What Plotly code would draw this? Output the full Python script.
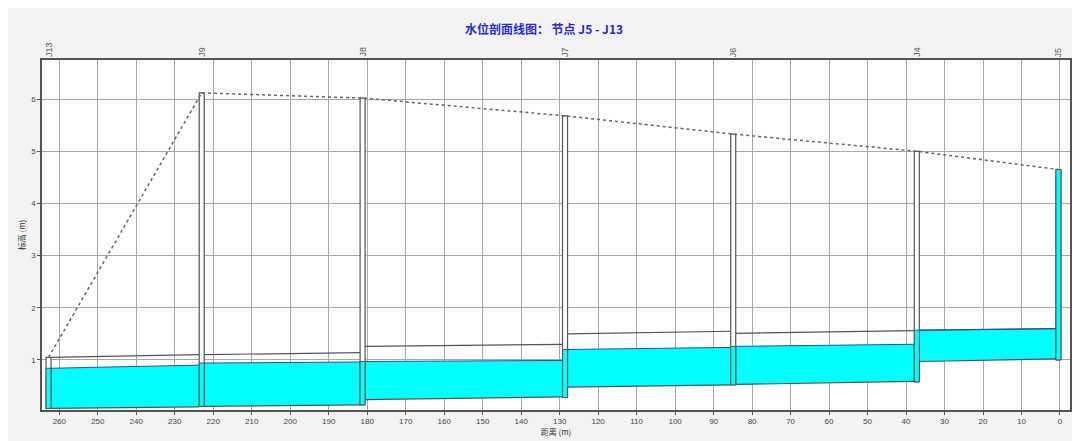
import plotly.graph_objects as go

# nodes along the profile (distance in m, elevations in m)
node_names = ["J13", "J9", "J8", "J7", "J6", "J4", "J5"]
node_x = [262.8, 223.0, 181.2, 128.6, 84.9, 37.2, 0.4]
node_ground = [1.05, 6.12, 6.02, 5.68, 5.33, 5.00, 4.65]
node_invert = [0.07, 0.11, 0.14, 0.28, 0.52, 0.58, 1.00]
node_water = [0.84, 0.94, 0.97, 1.20, 1.26, 1.57, 4.65]

# pipe segments between consecutive nodes (start = upstream side on the left)
seg_invert_start = [0.07, 0.11, 0.24, 0.48, 0.53, 0.97]
seg_invert_end = [0.10, 0.14, 0.29, 0.52, 0.59, 1.02]
seg_crown_start = [1.05, 1.10, 1.26, 1.50, 1.51, 1.57]
seg_crown_end = [1.10, 1.14, 1.30, 1.55, 1.56, 1.60]
seg_water_start = [0.84, 0.94, 0.97, 1.20, 1.26, 1.57]
seg_water_end = [0.90, 0.96, 0.99, 1.24, 1.30, 1.60]

well_w = 1.3
cyan = "#00ffff"
edge = "#555555"

fig = go.Figure()

# water in pipes
wx, wy = [], []
for i in range(len(seg_water_start)):
    x0 = node_x[i] - well_w / 2
    x1 = node_x[i + 1] + well_w / 2
    wx += [x0, x1, x1, x0, x0, None]
    wy += [seg_invert_start[i], seg_invert_end[i], seg_water_end[i], seg_water_start[i], seg_invert_start[i], None]
fig.add_trace(go.Scatter(x=wx, y=wy, fill="toself", fillcolor=cyan, mode="none", hoverinfo="skip"))

# pipe invert / crown lines and water surface
px_, py_, sx, sy = [], [], [], []
for i in range(len(seg_water_start)):
    x0 = node_x[i] - well_w / 2
    x1 = node_x[i + 1] + well_w / 2
    px_ += [x0, x1, None, x0, x1, None]
    py_ += [seg_invert_start[i], seg_invert_end[i], None, seg_crown_start[i], seg_crown_end[i], None]
    sx += [x0, x1, None]
    sy += [seg_water_start[i], seg_water_end[i], None]
fig.add_trace(go.Scatter(x=px_, y=py_, mode="lines", line=dict(color=edge, width=1.2), hoverinfo="skip"))
fig.add_trace(go.Scatter(x=sx, y=sy, mode="lines", line=dict(color="#2d4f9e", width=1), hoverinfo="skip"))

# manholes: white shaft, cyan water inside
mx, my, cx, cy = [], [], [], []
for x, g, b, w in zip(node_x, node_ground, node_invert, node_water):
    x0, x1 = x - well_w / 2, x + well_w / 2
    mx += [x0, x1, x1, x0, x0, None]
    my += [b, b, g, g, b, None]
    cx += [x0, x1, x1, x0, x0, None]
    cy += [b, b, w, w, b, None]
fig.add_trace(go.Scatter(x=mx, y=my, fill="toself", fillcolor="white", mode="lines",
                         line=dict(color=edge, width=1.2), hoverinfo="skip"))
fig.add_trace(go.Scatter(x=cx, y=cy, fill="toself", fillcolor=cyan, mode="lines",
                         line=dict(color=edge, width=1), hoverinfo="skip"))

# ground line
fig.add_trace(go.Scatter(x=node_x, y=node_ground, mode="lines",
                         line=dict(color="#666666", width=1.5, dash="dot"), hoverinfo="skip"))

for name, x in zip(node_names, node_x):
    fig.add_annotation(x=x, y=1.0, xref="x", yref="paper", text=name, showarrow=False,
                       textangle=-90, yanchor="bottom", yshift=1,
                       font=dict(size=9, color="#555555", family="Arial"))

axis_font = dict(size=8, color="#444444", family="Arial")
fig.update_layout(
    width=1072, height=433,
    margin=dict(l=34, r=8, t=52, b=30),
    paper_bgcolor="#f3f3f3", plot_bgcolor="white",
    showlegend=False,
    title=dict(text="<b>水位剖面线图： 节点 J5 - J13</b>", x=0.5, xanchor="center",
               y=0.95, yanchor="middle",
               font=dict(size=12, color="#2b2bc8", family="Noto Sans CJK SC")),
    xaxis=dict(range=[264.5, -2.6], tickvals=list(range(0, 261, 10)), tickfont=axis_font,
               showgrid=True, gridcolor="#a8a8a8", gridwidth=1, zeroline=False,
               showline=True, linecolor="#555555", linewidth=1.5, mirror=True,
               ticks="outside", ticklen=3, tickcolor="#555555",
               title=dict(text="距离 (m)", font=dict(size=8, color="#333333", family="Noto Sans CJK SC"),
                          standoff=1)),
    yaxis=dict(range=[0.04, 6.75], tickvals=[1, 2, 3, 4, 5, 6], tickfont=axis_font,
               showgrid=True, gridcolor="#a8a8a8", gridwidth=1, zeroline=False,
               showline=True, linecolor="#555555", linewidth=1.5, mirror=True,
               ticks="outside", ticklen=3, tickcolor="#555555",
               title=dict(text="标高 (m)", font=dict(size=8, color="#333333", family="Noto Sans CJK SC"),
                          standoff=4)),
)

fig.write_html("out.html")
